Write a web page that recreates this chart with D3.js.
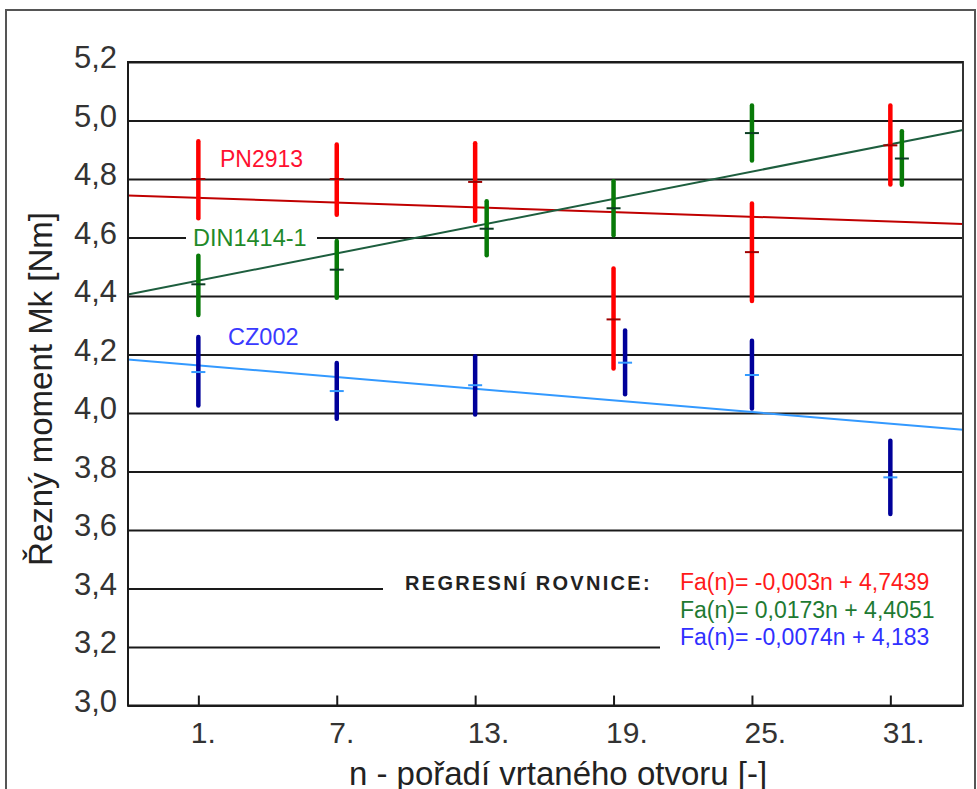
<!DOCTYPE html>
<html>
<head>
<meta charset="utf-8">
<script src="https://cdn.jsdelivr.net/npm/d3@7"></script>
<style>
  body { margin: 0; background: #fff; }
  text { font-family: "Liberation Sans", Arial, sans-serif; }
</style>
</head>
<body>
<svg id="chart" width="977" height="789"></svg>
<script>
// x categories (hole number) and y ticks
var holes = [1, 7, 13, 19, 25, 31];
var holeLabels = ["1.", "7.", "13.", "19.", "25.", "31."];
var yTicks = [3.0, 3.2, 3.4, 3.6, 3.8, 4.0, 4.2, 4.4, 4.6, 4.8, 5.0, 5.2];

// PN2913 (red)
var pnX    = [1, 7, 13, 19, 25, 31];
var pnMean = [4.80, 4.80, 4.79, 4.32, 4.55, 4.915];
var pnLow  = [4.666, 4.678, 4.656, 4.152, 4.383, 4.781];
var pnHigh = [4.929, 4.918, 4.922, 4.494, 4.716, 5.051];

// DIN1414-1 (green)
var dinX    = [1, 7, 13.5, 19, 25, 31.5];
var dinMean = [4.44, 4.49, 4.63, 4.70, 4.957, 4.87];
var dinLow  = [4.335, 4.394, 4.539, 4.608, 4.863, 4.78];
var dinHigh = [4.538, 4.588, 4.724, 4.792, 5.051, 4.963];

// CZ002 (blue)
var czX    = [1, 7, 13, 19.5, 25, 31];
var czMean = [4.14, 4.075, 4.095, 4.172, 4.13, 3.78];
var czLow  = [4.026, 3.98, 3.995, 4.064, 4.015, 3.655];
var czHigh = [4.26, 4.171, 4.194, 4.282, 4.247, 3.905];

// regression lines Fa(n) = a*n + b
var regSlope     = [-0.003, 0.0173, -0.0074];
var regIntercept = [4.7439, 4.4051, 4.183];
var regN = [0, 32.5];
var regTexts = ["Fa(n)= -0,003n + 4,7439", "Fa(n)= 0,0173n + 4,4051", "Fa(n)= -0,0074n + 4,183"];

var svg = d3.select("#chart");
var pL = 128, pR = 963, pT = 62, pB = 705.5;

var x = d3.scaleLinear().domain([-2.05, 34.15]).range([pL, pR]);
var xReg = d3.scaleLinear().domain(regN).range([pL, pR]);
var y = d3.scaleLinear().domain([3.0, 5.2]).range([pB, pT]);

// outer frame
svg.append("path")
  .attr("d", "M6,789V10H975V789")
  .attr("fill", "none")
  .attr("stroke", "#555")
  .attr("stroke-width", 2);

// gridlines + y labels
var yAxis = svg.append("g")
  .attr("transform", "translate(" + pL + ",0)")
  .call(d3.axisLeft(y)
    .tickValues(yTicks)
    .tickFormat(d => d.toFixed(1).replace(".", ","))
    .tickSizeInner(-(pR - pL))
    .tickSizeOuter(0)
    .tickPadding(11));
yAxis.select(".domain").remove();
yAxis.selectAll("line").attr("stroke", "#1a1a1a").attr("stroke-width", 1.8);
yAxis.selectAll("text")
  .attr("dy", "0.18em")
  .attr("fill", "#333")
  .style("font-size", "31px");

// white boxes behind the regression text
svg.append("rect").attr("x", 383).attr("y", 575).attr("width", pR - 383).attr("height", 22).attr("fill", "#fff");
svg.append("rect").attr("x", 660).attr("y", 600).attr("width", pR - 660).attr("height", 55).attr("fill", "#fff");

// x ticks + labels
var xAxis = svg.append("g")
  .attr("transform", "translate(0," + pB + ")")
  .call(d3.axisBottom(x)
    .tickValues(holes)
    .tickFormat((d, i) => holeLabels[i])
    .tickSizeInner(-10)
    .tickSizeOuter(0)
    .tickPadding(16));
xAxis.select(".domain").remove();
xAxis.selectAll("line").attr("stroke", "#1a1a1a").attr("stroke-width", 2);
xAxis.selectAll("text")
  .attr("text-anchor", "start")
  .attr("dx", -8)
  .attr("fill", "#333")
  .style("font-size", "30px");

// regression lines
var regColors = ["#c00000", "#1d5e3e", "#3399ff"];
regSlope.forEach(function(a, i) {
  svg.append("line")
    .attr("x1", xReg(regN[0]))
    .attr("y1", y(a * regN[0] + regIntercept[i]))
    .attr("x2", xReg(regN[1]))
    .attr("y2", y(a * regN[1] + regIntercept[i]))
    .attr("stroke", regColors[i])
    .attr("stroke-width", 2);
});

// error bars
function drawSeries(xs, means, lows, highs, color, tickColor) {
  var g = svg.append("g");
  xs.forEach(function(n, i) {
    g.append("line")
      .attr("x1", x(n)).attr("x2", x(n))
      .attr("y1", y(highs[i])).attr("y2", y(lows[i]))
      .attr("stroke", color)
      .attr("stroke-width", 4.5)
      .attr("stroke-linecap", "round");
    g.append("line")
      .attr("x1", x(n) - 7).attr("x2", x(n) + 7)
      .attr("y1", y(means[i])).attr("y2", y(means[i]))
      .attr("stroke", tickColor)
      .attr("stroke-width", 2);
  });
}
drawSeries(pnX, pnMean, pnLow, pnHigh, "#ff0000", "#a00000");
drawSeries(dinX, dinMean, dinLow, dinHigh, "#087a08", "#0b3d22");
drawSeries(czX, czMean, czLow, czHigh, "#00009a", "#3399ff");

// series labels
svg.append("text").attr("x", 220).attr("y", 167).attr("fill", "#ff1030")
  .style("font-size", "23px").text("PN2913");
svg.append("rect").attr("x", 186).attr("y", 226).attr("width", 131).attr("height", 24).attr("fill", "#fff");
svg.append("text").attr("x", 193).attr("y", 246).attr("fill", "#1f8a2a")
  .style("font-size", "23.5px").text("DIN1414-1");
svg.append("text").attr("x", 228).attr("y", 345).attr("fill", "#3a3aff")
  .style("font-size", "23.5px").text("CZ002");

// regression legend
svg.append("text").attr("x", 405).attr("y", 590).attr("fill", "#222")
  .style("font-size", "20px").style("font-weight", "bold").style("letter-spacing", "2.3px")
  .text("REGRESNÍ ROVNICE:");
var eqColors = ["#ff1a1a", "#1e7a32", "#3030ff"];
regTexts.forEach(function(t, i) {
  svg.append("text").attr("x", 680).attr("y", 590 + i * 27.5).attr("fill", eqColors[i])
    .style("font-size", "23px").text(t);
});

// plot frame
svg.append("line").attr("x1", pL).attr("x2", pL).attr("y1", pT - 1).attr("y2", pB + 1)
  .attr("stroke", "#1a1a1a").attr("stroke-width", 2);
svg.append("line").attr("x1", pL - 1).attr("x2", pR + 1).attr("y1", pB).attr("y2", pB)
  .attr("stroke", "#1a1a1a").attr("stroke-width", 2);
svg.append("line").attr("x1", pR).attr("x2", pR).attr("y1", pT - 1).attr("y2", pB + 1)
  .attr("stroke", "#333").attr("stroke-width", 2);
svg.append("line").attr("x1", pL).attr("x2", pR).attr("y1", pT).attr("y2", pT)
  .attr("stroke", "#1a1a1a").attr("stroke-width", 2);

// axis titles
svg.append("text")
  .attr("text-anchor", "middle")
  .attr("transform", "translate(52,389) rotate(-90)")
  .attr("fill", "#222")
  .style("font-size", "33px")
  .text("Řezný moment Mk [Nm]");
svg.append("text")
  .attr("x", 558).attr("y", 785)
  .attr("text-anchor", "middle")
  .attr("fill", "#222")
  .style("font-size", "33px")
  .text("n - pořadí vrtaného otvoru [-]");
</script>
</body>
</html>
